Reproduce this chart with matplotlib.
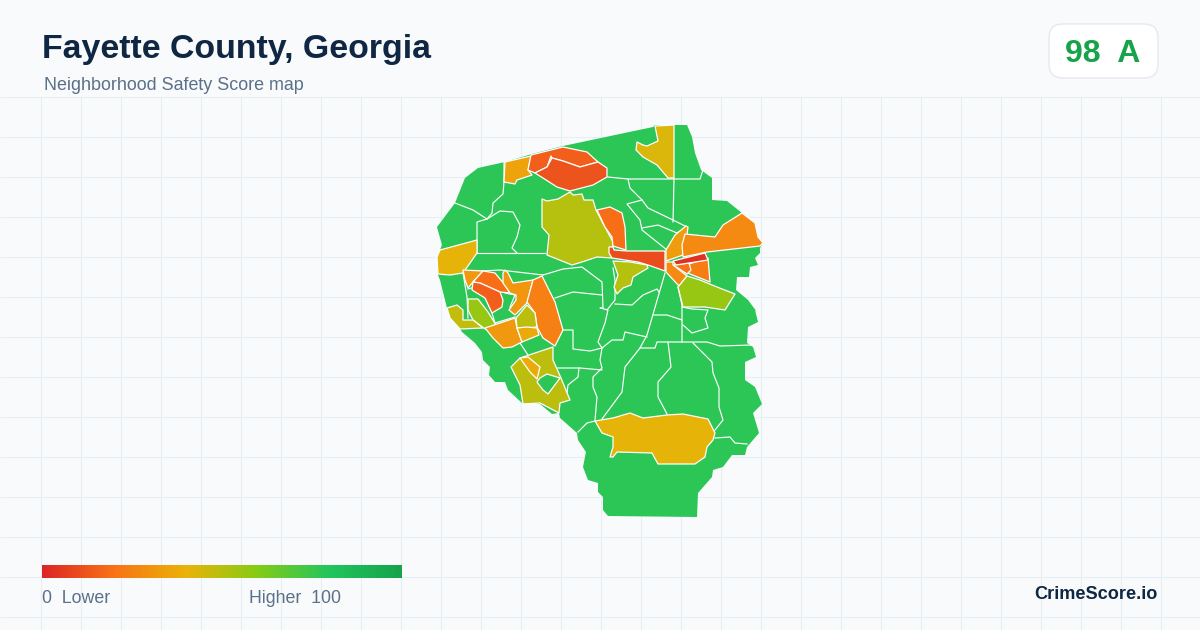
import numpy as np
from matplotlib import pyplot as plt
from matplotlib.colors import LinearSegmentedColormap, Normalize
from matplotlib.patches import Polygon, FancyBboxPatch

plt.rcParams["font.family"] = ["Liberation Sans", "DejaVu Sans"]

# outline of the county, map units are the picture's pixels
county_outline = [(655,125),(687,125),(692,137),(695,153),(701,170),(712,178),(712,200),(727,201),(742,213),(755,223),(758,237),(763,243),(760,248),(760,253),(755,258),(758,265),(750,267),(749,277),(737,277),(736,290),(748,300),(757,312),(755,310),(758,322),(748,327),(747,343),(753,347),(756,357),(745,362),(745,380),(755,387),(762,404),(753,413),(759,433),(747,447),(745,455),(732,455),(723,467),(713,470),(712,477),(698,493),(697,517),(608,516),(603,510),(603,497),(598,492),(598,483),(588,480),(583,467),(586,452),(578,440),(577,433),(568,425),(560,418),(559,413),(552,414),(540,404),(522,403),(508,390),(505,382),(495,382),(489,375),(490,367),(483,360),(482,352),(475,343),(462,332),(447,308),(440,280),(438,275),(437,257),(442,245),(437,227),(455,203),(465,178),(478,168),(505,162),(532,154),(563,146),(653,127)]
county_score = 78

# neighborhoods that are not the base green
tract_north_yellow = [(655,126),(674,125),(674,178),(668,178),(657,165),(643,157),(636,150),(637,142),(643,145),(647,146),(658,141)]
tract_nw_orange = [(505,162),(531,156),(528,170),(532,175),(517,180),(515,184),(504,182)]
tract_north_red_a = [(531,155),(563,147),(587,152),(598,162),(580,167),(563,161),(552,158),(551,156),(547,167),(535,173),(528,170)]
tract_north_red_b = [(535,173),(547,167),(552,158),(563,161),(580,167),(598,162),(607,168),(607,177),(593,185),(570,191),(557,187),(543,178)]
tract_big_olive = [(542,199),(547,201),(558,199),(570,192),(573,195),(582,194),(584,200),(593,200),(596,210),(605,227),(613,242),(612,258),(597,257),(582,262),(572,265),(547,255),(549,235),(542,227)]
tract_mid_orange = [(597,210),(610,207),(622,213),(625,227),(626,250),(613,246),(612,237),(605,227)]
tract_red_bar = [(609,247),(613,247),(614,250),(627,251),(665,251),(665,271),(648,265),(638,262),(612,258),(609,253)]
tract_mid_olive = [(613,261),(630,262),(647,265),(648,268),(633,277),(631,285),(623,288),(617,294),(614,287),(618,275)]
tract_sliver = [(686,226),(688,227),(687,235),(684,238),(683,255),(666,261),(666,250),(675,235)]
tract_east_orange = [(685,234),(715,237),(723,225),(742,213),(755,223),(758,237),(763,243),(760,246),(707,252),(683,257),(682,245)]
tract_core_a = [(689,264),(708,258),(710,282),(690,274),(687,272)]
tract_core_b = [(673,265),(689,263),(691,270),(687,274),(678,268)]
tract_core_c = [(666,262),(673,262),(673,265),(687,276),(679,286),(666,272)]
tract_red_sliver = [(673,261),(705,253),(708,260),(676,265)]
tract_east_lime = [(687,276),(700,280),(717,287),(735,294),(725,310),(705,307),(683,307),(678,287)]
tract_west_yellow = [(437,257),(440,250),(477,240),(477,253),(463,273),(450,275),(438,274)]
tract_west_a = [(463,270),(483,271),(473,282),(468,288),(465,280)]
tract_west_b = [(483,271),(495,273),(505,285),(510,293),(500,292),(480,283),(473,282)]
tract_west_c = [(473,282),(480,283),(500,292),(503,300),(502,307),(492,313),(485,298),(472,290)]
tract_west_d = [(503,273),(505,270),(508,273),(513,283),(533,280),(527,303),(515,315),(509,310),(516,300),(516,295),(510,293),(503,283)]
tract_long_orange = [(542,276),(555,302),(563,330),(555,346),(543,338),(537,327),(535,313),(527,302),(533,280)]
tract_west_lime = [(468,299),(478,299),(488,312),(496,325),(485,329),(473,320),(468,310)]
tract_west_olive = [(447,308),(457,305),(463,310),(463,320),(473,320),(483,328),(460,329),(450,318)]
tract_sw_orange = [(485,328),(515,318),(517,328),(522,342),(512,347),(503,348),(493,338)]
tract_sw_olive = [(527,305),(535,313),(537,327),(527,328),(517,328),(516,318)]
tract_sw_yellow = [(517,328),(527,327),(537,328),(539,335),(522,342)]
tract_south_olive = [(520,358),(550,348),(553,347),(553,360),(561,378),(570,400),(560,403),(559,413),(540,403),(523,404),(520,385),(511,367)]
tract_south_yellow = [(520,358),(528,357),(540,367),(537,379),(530,372)]
tract_south_hole = [(540,378),(547,374),(560,378),(548,394),(543,390),(537,382)]
tract_big_yellow = [(595,421),(613,418),(630,413),(643,418),(667,415),(683,414),(708,419),(715,433),(713,440),(707,447),(705,457),(695,464),(658,464),(652,453),(617,452),(613,457),(610,457),(613,447),(613,437),(602,433)]

tracts = [tract_north_yellow, tract_nw_orange, tract_north_red_a, tract_north_red_b, tract_big_olive, tract_mid_orange, tract_red_bar, tract_mid_olive, tract_sliver, tract_east_orange, tract_core_a, tract_core_b, tract_core_c, tract_red_sliver, tract_east_lime, tract_west_yellow, tract_west_a, tract_west_b, tract_west_c, tract_west_d, tract_long_orange, tract_west_lime, tract_west_olive, tract_sw_orange, tract_sw_olive, tract_sw_yellow, tract_south_olive, tract_south_yellow, tract_south_hole, tract_big_yellow]
tract_scores = [43, 35, 15, 12, 50, 19, 10, 50, 33, 27, 23, 20, 27, 3, 56, 41, 32, 19, 15, 31, 24, 56, 48, 32, 49, 37, 49, 37, 78, 41]

# borders between green neighborhoods
green_borders = [
    [(504,162),(504,182),(503,194),(493,203),(492,213),(487,219)],
    [(455,203),(473,210),(487,219),(477,222),(477,253)],
    [(487,219),(500,211),(513,212),(520,225),(517,237),(512,248),(517,253)],
    [(477,253),(545,253)],
    [(463,272),(500,270),(543,275)],
    [(608,177),(628,179),(667,179),(700,179),(703,170)],
    [(628,179),(630,188),(642,200),(648,208),(673,220),(687,227)],
    [(642,200),(627,204),(640,220),(642,230),(667,250)],
    [(642,228),(658,225),(677,233),(682,230)],
    [(674,179),(673,222)],
    [(543,275),(563,269),(582,267),(602,282),(603,308),(600,308),(608,310),(605,323),(598,342),(602,348),(600,360),(602,368),(593,377),(593,387),(597,397),(595,420)],
    [(613,268),(615,280),(615,300),(607,310)],
    [(555,298),(573,292),(602,295)],
    [(615,304),(632,305),(643,295),(657,289),(659,292)],
    [(665,273),(647,335),(640,348),(625,367),(622,392),(602,419)],
    [(678,287),(682,305),(682,342),(657,342),(655,348),(640,348)],
    [(653,315),(667,315),(682,320)],
    [(682,307),(692,309),(708,310),(705,318),(708,328),(692,333),(683,325)],
    [(682,342),(707,342),(720,346),(752,345)],
    [(668,342),(671,367),(658,382),(658,397),(667,414)],
    [(693,343),(712,362),(713,373),(719,388),(719,407),(723,420),(715,430)],
    [(647,337),(625,332),(623,340),(612,340),(602,348)],
    [(563,330),(573,330),(573,349),(590,351),(602,348)],
    [(557,368),(580,368),(602,370)],
    [(579,368),(578,377),(568,385),(567,393)],
    [(578,432),(587,423),(595,421)],
    [(715,438),(730,437),(735,443),(747,444)],
    [(520,343),(528,355)],
    [(463,273),(467,297),(468,318)],
    [(468,289),(475,287),(485,292)],
    [(492,313),(495,323),(515,317)],
    [(505,293),(515,295),(510,307)],
]

scale_stops = [0, 20, 40, 60, 80, 100]
scale_colors = ["#dc2626", "#f97316", "#eab308", "#84cc16", "#22c55e", "#16a34a"]
score_cmap = LinearSegmentedColormap.from_list("score", [(s / 100, c) for s, c in zip(scale_stops, scale_colors)])
norm = Normalize(0, 100)

fig = plt.figure(figsize=(12, 6.3), dpi=100, facecolor="#f8fafc")
ax = fig.add_axes([0, 0, 1, 1])
ax.axis("off")

# background grid
ax.vlines(np.arange(40.5, 1200, 40), 97, 630, color="#e6eff3", lw=0.8, zorder=1)
ax.hlines(np.arange(97, 630, 40), 0, 1200, color="#e6eff3", lw=0.8, zorder=1)

ax.add_patch(Polygon(county_outline, closed=True, fc=score_cmap(norm(county_score)), ec="none", zorder=2))
for border in green_borders:
    xs, ys = zip(*border)
    ax.plot(xs, ys, color="white", lw=0.85, zorder=3, solid_joinstyle="round")
for tract, score in zip(tracts, tract_scores):
    ax.add_patch(Polygon(tract, closed=True, fc=score_cmap(norm(score)), ec="white", lw=0.9, zorder=4, joinstyle="round"))

# header
ax.text(42, 58, "Fayette County, Georgia", fontsize=24.4, fontweight="bold", color="#0f2742", zorder=6)
ax.text(44, 90, "Neighborhood Safety Score map", fontsize=12.85, color="#5b7089", zorder=6)

# score badge
ax.add_patch(FancyBboxPatch((1061, 36), 85, 30, boxstyle="round,pad=12,rounding_size=14", fc="white", ec="#e2e8f0", lw=0.9, zorder=5))
ax.text(1103, 62, "98  A", fontsize=23, fontweight="bold", color="#16a34a", ha="center", zorder=6)

# legend bar
gradient = np.linspace(0, 100, 360).reshape(1, -1)
ax.imshow(gradient, cmap=score_cmap, norm=norm, extent=(42, 402, 578, 565), aspect="auto", zorder=5)
ax.set_xlim(0, 1200)
ax.set_ylim(630, 0)
ax.text(42, 603, "0  Lower", fontsize=12.8, color="#5b7089", zorder=6)
ax.text(249, 603, "Higher  100", fontsize=12.8, color="#5b7089", zorder=6)
ax.text(1158, 599, "CrimeScore.io", fontsize=13.1, fontweight="bold", color="#0f2742", ha="right", zorder=6)

fig.savefig("out.png", dpi=100, facecolor=fig.get_facecolor())
